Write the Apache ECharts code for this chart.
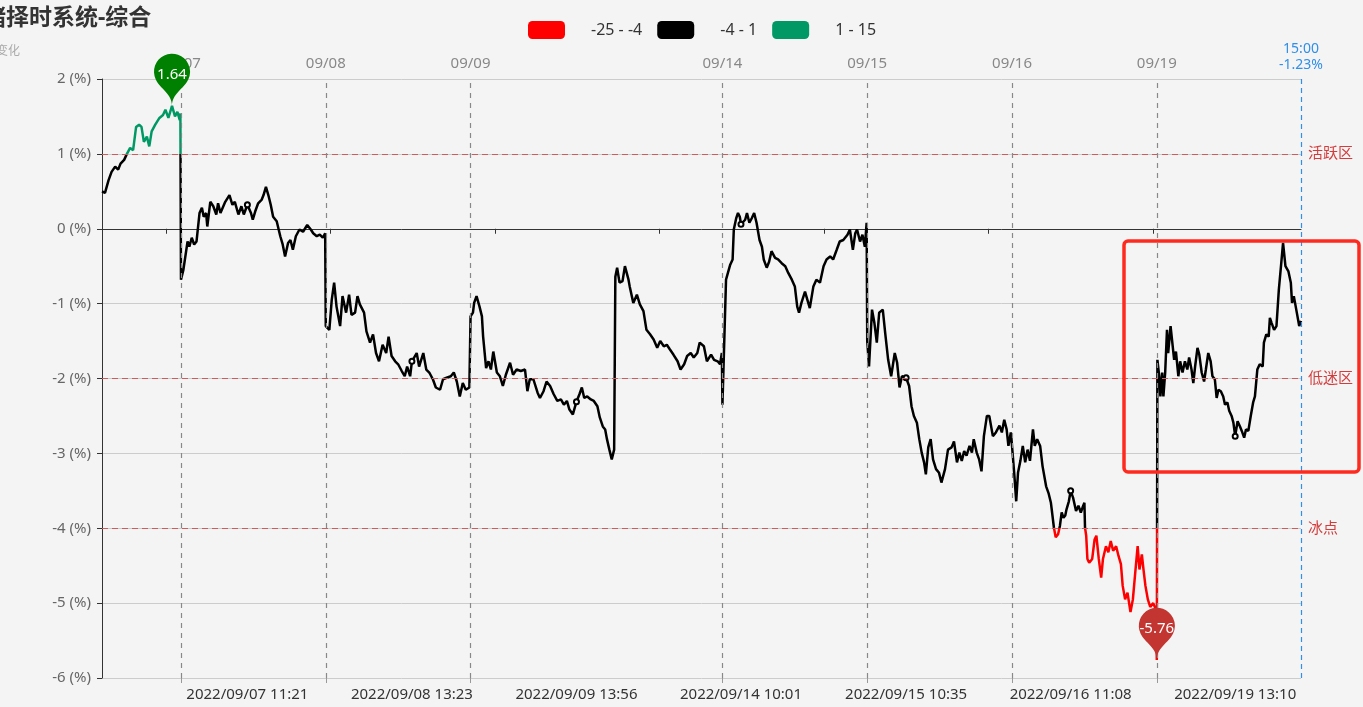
<!DOCTYPE html>
<html>
<head>
<meta charset="utf-8">
<script src="https://cdn.jsdelivr.net/npm/echarts@6/dist/echarts.min.js"></script>
<style>
html,body{margin:0;padding:0;background:#f4f4f4;}
#chart{width:1363px;height:707px;}
</style>
</head>
<body>
<div id="chart"></div>
<script>
// ---------------- data ----------------
const titleText = '情绪择时系统-综合';
const subText = '情绪值变化';

// trading days and their minute sessions [startH, startM, endH, endM]
const tradeDays = ['2022/09/06','2022/09/07','2022/09/08','2022/09/09','2022/09/13','2022/09/14','2022/09/15','2022/09/16','2022/09/19'];
const daySessions = [
  [[11,20,11,30],[13,0,15,0]],
  [[9,30,11,30],[13,0,15,0]],
  [[9,30,11,30],[13,0,15,0]],
  [[9,30,11,30],[13,0,15,0]],
  [[9,30,11,30],[13,0,13,57]],
  [[9,30,11,30],[13,0,15,0]],
  [[9,30,11,30],[13,0,15,0]],
  [[9,30,11,30],[13,0,15,0]],
  [[9,30,11,30],[13,0,15,0]]
];
// days that get a vertical separator
const markedDays = ['2022/09/07','2022/09/08','2022/09/09','2022/09/14','2022/09/15','2022/09/16','2022/09/19'];
// bottom axis labels
const bottomLabels = ['2022/09/07 11:21','2022/09/08 13:23','2022/09/09 13:56','2022/09/14 10:01','2022/09/15 10:35','2022/09/16 11:08','2022/09/19 13:10'];
// y-axis
const yTicks = [-6,-5,-4,-3,-2,-1,0,1,2];
// zone lines
const zoneValues = [1, -2, -4];
const zoneNames = ['活跃区', '低迷区', '冰点'];
// visualMap pieces
const pieceMins = [-25, -4, 1];
const pieceMaxs = [-4, 1, 15];
const pieceColors = ['#ff0000', '#000000', '#009966'];

// line: minute index (category index) and value (%)
const pointIndex = [
  0,5,11,16,22,27,31,37,41,47,52,57,62,66,70,75,79,83,89,96,102,106,111,117,122,126,130,131,
  132,136,143,146,150,154,158,163,167,170,174,176,181,186,191,194,198,206,213,218,222,228,233,237,243,249,252,256,261,267,270,274,278,282,286,292,298,302,306,311,315,319,324,330,336,343,349,353,359,364,369,373,
  374,380,384,388,392,398,402,408,413,417,423,427,431,438,442,448,453,458,463,469,475,479,484,490,495,501,506,510,515,518,526,530,537,542,547,553,558,565,570,576,583,588,593,598,603,608,614,615,
  616,620,622,626,631,635,637,642,646,650,654,660,665,670,675,682,687,693,700,707,711,715,721,728,732,738,743,749,755,761,767,772,777,781,787,793,798,802,806,811,817,822,828,832,837,841,844,848,852,856,857,
  858,861,865,870,874,880,882,888,894,899,905,910,916,922,928,933,939,944,949,955,962,967,973,978,984,989,995,999,1006,1011,1018,1023,1029,1033,1036,
  1037,1043,1046,1050,1054,1056,1060,1063,1066,1068,1075,1078,1082,1086,1090,1094,1099,1103,1106,1111,1115,1119,1125,1130,1136,1142,1147,1153,1158,1162,1165,1169,1175,1179,1183,1189,1194,1200,1206,1211,1217,1222,1228,1233,1239,1246,1250,1255,1259,1262,1267,1271,1275,1278,
  1279,1282,1284,1287,1291,1295,1299,1305,1309,1314,1319,1325,1329,1333,1337,1344,1349,1353,1357,1362,1366,1370,1374,1377,1381,1385,1389,1394,1399,1403,1409,1414,1420,1424,1429,1433,1437,1441,1445,1450,1454,1457,1462,1466,1470,1474,1479,1483,1489,1494,1500,1504,1508,1512,1515,1519,1520,
  1521,1525,1528,1531,1535,1539,1543,1547,1551,1556,1559,1563,1568,1572,1578,1582,1586,1588,1591,1594,1598,1601,1604,1607,1610,1612,1616,1619,1623,1628,1632,1636,1639,1642,1643,1645,1647,1650,1655,1659,1662,1666,1670,1673,1678,1682,1686,1690,1695,1699,1703,1706,1710,1714,1719,1723,1727,1731,1734,1738,1741,1744,1748,1752,1757,1762,
  1763,1764,1767,1769,1772,1774,1777,1780,1782,1786,1789,1792,1795,1799,1802,1806,1810,1814,1817,1821,1824,1827,1831,1834,1838,1842,1845,1849,1853,1856,1860,1863,1866,1870,1874,1877,1881,1884,1888,1891,1894,1898,1902,1905,1909,1912,1916,1920,1924,1927,1931,1935,1940,1942,1946,1950,1952,1955,1959,1963,1967,1971,1974,1978,1983,1987,1989,1992,1997,2001,2004
];
const pointValue = [
  0.50,0.48,0.65,0.76,0.83,0.79,0.87,0.92,0.99,1.08,1.05,1.36,1.39,1.36,1.16,1.23,1.10,1.30,1.39,1.48,1.52,1.59,1.48,1.64,1.50,1.56,1.45,1.54,
  -0.68,-0.55,-0.17,-0.24,-0.12,-0.21,-0.17,0.21,0.28,0.16,0.21,0.03,0.36,0.30,0.19,0.34,0.21,0.36,0.45,0.32,0.36,0.19,0.30,0.19,0.32,0.21,0.12,0.23,0.34,0.39,0.45,0.56,0.45,0.32,0.16,0.10,-0.10,-0.21,-0.37,-0.19,-0.15,-0.28,-0.10,-0.01,-0.04,0.05,-0.01,-0.06,-0.10,-0.08,-0.12,-0.06,
  -1.30,-1.35,-0.95,-0.72,-1.04,-1.30,-0.90,-1.12,-0.88,-1.15,-1.12,-0.90,-1.01,-1.12,-1.37,-1.52,-1.41,-1.66,-1.77,-1.55,-1.66,-1.44,-1.70,-1.77,-1.81,-1.90,-1.97,-1.84,-1.97,-1.77,-1.66,-1.84,-1.66,-1.88,-1.92,-2.01,-2.12,-2.15,-2.01,-1.99,-1.97,-1.92,-2.04,-2.24,-2.06,-2.15,-2.12,-2.10,
  -1.17,-1.12,-0.99,-0.90,-1.04,-1.17,-1.44,-1.86,-1.77,-1.88,-1.64,-1.92,-1.97,-2.10,-1.95,-1.79,-1.95,-1.88,-1.90,-1.88,-2.17,-2.01,-2.01,-2.19,-2.26,-2.17,-2.04,-2.10,-2.21,-2.30,-2.28,-2.35,-2.30,-2.41,-2.48,-2.31,-2.21,-2.12,-2.26,-2.24,-2.28,-2.30,-2.37,-2.52,-2.64,-2.68,-2.81,-2.95,-3.08,-2.95,-2.97,
  -0.64,-0.52,-0.72,-0.70,-0.50,-0.68,-0.77,-0.99,-0.88,-1.01,-1.10,-1.35,-1.41,-1.48,-1.59,-1.50,-1.57,-1.55,-1.61,-1.68,-1.77,-1.88,-1.81,-1.70,-1.66,-1.72,-1.66,-1.52,-1.57,-1.77,-1.68,-1.75,-1.77,-1.81,-1.66,
  -2.35,-0.68,-0.68,-0.48,-0.41,-0.01,0.14,0.21,0.16,0.06,0.12,0.21,0.08,0.14,0.21,0.08,-0.15,-0.24,-0.41,-0.52,-0.44,-0.30,-0.39,-0.41,-0.46,-0.50,-0.59,-0.68,-0.77,-1.04,-1.12,-0.99,-0.84,-0.95,-1.06,-0.77,-0.68,-0.72,-0.50,-0.41,-0.37,-0.41,-0.28,-0.17,-0.15,-0.08,-0.01,-0.28,-0.06,-0.01,-0.17,-0.08,-0.24,0.08,
  -1.50,-1.84,-1.86,-1.08,-1.26,-1.52,-1.12,-1.08,-1.39,-1.75,-1.97,-1.66,-1.79,-2.12,-1.97,-1.99,-2.10,-2.37,-2.50,-2.59,-2.81,-2.99,-3.12,-3.28,-2.92,-2.81,-3.08,-3.21,-3.26,-3.39,-3.21,-2.95,-2.92,-2.84,-3.12,-2.99,-3.10,-2.97,-3.03,-2.90,-2.99,-2.81,-2.99,-3.08,-3.24,-2.77,-2.50,-2.50,-2.77,-2.72,-2.63,-2.72,-2.55,-2.68,-2.90,-2.72,-2.80,
  -2.90,-3.30,-3.64,-3.26,-3.10,-2.90,-3.12,-2.95,-3.10,-2.68,-2.90,-2.81,-2.90,-3.17,-3.44,-3.53,-3.66,-3.79,-3.99,-4.12,-4.08,-3.97,-3.79,-3.86,-3.83,-3.75,-3.64,-3.50,-3.59,-3.77,-3.70,-3.79,-3.72,-3.66,-3.99,-4.10,-4.41,-4.46,-4.41,-4.15,-4.10,-4.41,-4.66,-4.41,-4.24,-4.32,-4.17,-4.30,-4.24,-4.37,-4.48,-4.77,-4.95,-4.86,-5.12,-4.95,-4.59,-4.24,-4.55,-4.35,-4.57,-4.77,-4.95,-5.05,-5.00,-5.10,
  -5.76,-1.75,-1.97,-2.24,-1.92,-2.24,-1.92,-1.35,-1.66,-1.30,-1.30,-1.75,-1.64,-1.97,-1.77,-1.92,-1.77,-1.88,-1.72,-1.88,-2.06,-1.84,-1.59,-1.68,-1.92,-2.04,-1.88,-1.66,-1.77,-1.97,-2.01,-2.26,-2.15,-2.17,-2.24,-2.35,-2.32,-2.43,-2.50,-2.59,-2.77,-2.57,-2.64,-2.70,-2.79,-2.68,-2.70,-2.50,-2.32,-2.24,-1.88,-1.81,-1.84,-1.52,-1.41,-1.44,-1.19,-1.26,-1.35,-1.30,-0.81,-0.46,-0.19,-0.50,-0.57,-0.72,-0.99,-0.90,-1.12,-1.30,-1.23
];

// ---------------- build ----------------
function pad(n) { return n < 10 ? '0' + n : '' + n; }
const categories = [];
tradeDays.forEach(function (d, k) {
  daySessions[k].forEach(function (s) {
    for (let t = s[0] * 60 + s[1]; t <= s[2] * 60 + s[3]; t++) {
      categories.push(d + ' ' + pad(Math.floor(t / 60)) + ':' + pad(t % 60));
    }
  });
});
const lineData = pointIndex.map(function (i, k) { return [i, pointValue[k]]; });
const dayStartIdx = markedDays.map(function (d) { return categories.indexOf(d + ' 09:30'); });
const dayStartSet = {};
dayStartIdx.forEach(function (i) { dayStartSet[i] = true; });
const labelSet = {};
bottomLabels.forEach(function (l) { labelSet[l] = true; });
const lastIdx = pointIndex[pointIndex.length - 1];
const lastVal = pointValue[pointValue.length - 1];
const lastTime = categories[lastIdx].split(' ')[1];

const FONT = "'Noto Sans', 'Noto Sans CJK SC', sans-serif";
const zoneColor = '#cd5c5c';
const blue = '#2f8fea';

const markLineData = [];
zoneValues.forEach(function (v, k) {
  markLineData.push({
    yAxis: v,
    lineStyle: { color: zoneColor, type: [6, 4], width: 1.2 },
    label: { formatter: zoneNames[k], position: 'end', color: '#d43c3c', fontSize: 15, distance: 7 }
  });
});
dayStartIdx.forEach(function (i, k) {
  markLineData.push({
    xAxis: categories[i],
    lineStyle: { color: '#888', type: [5, 5], width: 1.2 },
    label: { formatter: markedDays[k].slice(5), position: 'end', color: '#888', fontSize: 15, distance: 8 }
  });
});
markLineData.push({
  xAxis: categories[lastIdx],
  lineStyle: { color: blue, type: [5, 4], width: 1.2 },
  label: { formatter: lastTime + '\n' + lastVal.toFixed(2) + '%', position: 'end', color: blue, fontSize: 14, lineHeight: 16, distance: 6 }
});

const option = {
  backgroundColor: '#f4f4f4',
  animation: false,
  textStyle: { fontFamily: FONT },
  title: {
    text: titleText,
    subtext: subText,
    left: -45,
    top: 2,
    itemGap: 16,
    textStyle: { fontSize: 23, fontWeight: 'bold', color: '#333', fontFamily: FONT },
    subtextStyle: { fontSize: 12, color: '#aaa', fontFamily: FONT }
  },
  visualMap: {
    type: 'piecewise',
    orient: 'horizontal',
    left: 513,
    top: 6,
    seriesIndex: 0,
    dimension: 1,
    itemWidth: 37,
    itemHeight: 18,
    itemGap: 15,
    textGap: 26,
    itemSymbol: 'roundRect',
    textStyle: { color: '#333', fontSize: 16, fontFamily: FONT },
    pieces: pieceMins.map(function (m, k) { return { min: m, max: pieceMaxs[k], color: pieceColors[k] }; })
  },
  grid: { left: 102, right: 62, top: 79, bottom: 29, containLabel: false, outerBoundsMode: 'none' },
  xAxis: [
    {
      type: 'category',
      data: categories,
      boundaryGap: false,
      position: 'bottom',
      axisLine: { show: false, onZero: false },
      axisTick: { show: true, interval: function (i) { return !!dayStartSet[i]; }, length: 5, lineStyle: { color: '#999' } },
      axisLabel: { interval: function (i, v) { return !!labelSet[v]; }, color: '#333', fontSize: 15, margin: 9, fontFamily: FONT },
      splitLine: { show: false }
    },
    {
      type: 'category',
      data: categories,
      boundaryGap: false,
      position: 'bottom',
      axisLine: { show: true, onZero: true, lineStyle: { color: '#333', width: 1 } },
      axisTick: { show: true, interval: function (i) { return i >= 107 && (i - 107) % 275 === 0; }, length: 5, lineStyle: { color: '#333' } },
      axisLabel: { show: false },
      splitLine: { show: false }
    }
  ],
  yAxis: {
    type: 'value',
    min: yTicks[0],
    max: yTicks[yTicks.length - 1],
    interval: 1,
    axisLine: { show: true, lineStyle: { color: '#333' } },
    axisTick: { show: true, length: 5, lineStyle: { color: '#333' } },
    axisLabel: { formatter: '{value} (%)', color: '#666', fontSize: 15, margin: 11, fontFamily: FONT },
    splitLine: { show: true, lineStyle: { color: '#ccc' } }
  },
  series: [
    {
      type: 'line',
      xAxisIndex: 0,
      yAxisIndex: 0,
      data: lineData,
      symbol: 'emptyCircle',
      symbolSize: 5,
      showAllSymbol: 'auto',
      lineStyle: { width: 2.5 },
      markPoint: {
        z: 10,
        symbol: 'pin',
        symbolSize: 60,
        label: { color: '#fff', fontSize: 15, fontFamily: FONT },
        data: [
          { type: 'max', itemStyle: { color: '#008000' } },
          { type: 'min', itemStyle: { color: '#c23531' } }
        ]
      },
      markLine: {
        z: 4,
        symbol: 'none',
        silent: true,
        animation: false,
        data: markLineData
      }
    }
  ],
  graphic: [
    {
      type: 'rect',
      z: 100,
      shape: { x: 1124, y: 241, width: 235, height: 231, r: 4 },
      style: { fill: 'none', stroke: '#ff2a1f', lineWidth: 3.5 }
    }
  ]
};

const chart = echarts.init(document.getElementById('chart'), null, { renderer: 'canvas' });
chart.setOption(option);
</script>
</body>
</html>
